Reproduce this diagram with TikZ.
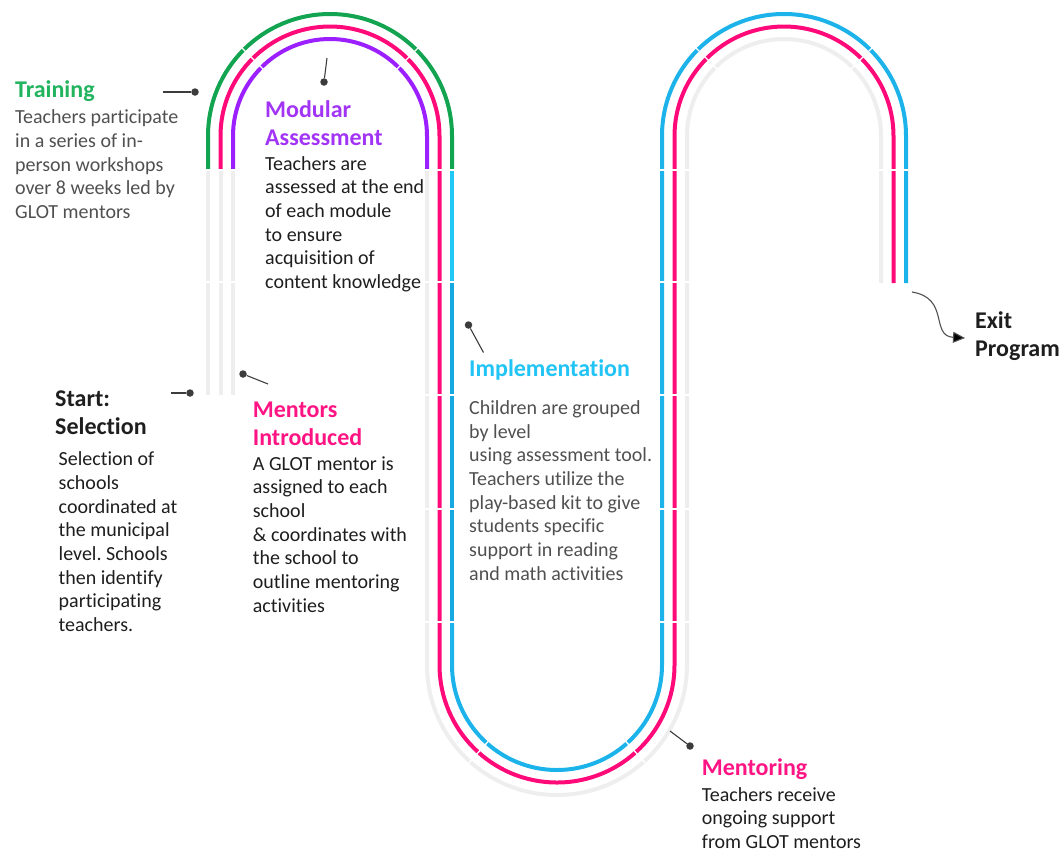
\documentclass[tikz,border=0pt]{standalone}
\usepackage{fontspec}
\setmainfont{Carlito}[Ligatures=NoCommon]
\frenchspacing
\usetikzlibrary{arrows.meta,calc}

\definecolor{trackgray}{HTML}{EEEEEE}
\definecolor{lgreen}{HTML}{13A452}
\definecolor{lpink}{HTML}{FF0A78}
\definecolor{lpurple}{HTML}{9B1FFF}
\definecolor{lcyan}{HTML}{1CB2EA}
\definecolor{lcyanlight}{HTML}{22C8F5}
\definecolor{lcyandark}{HTML}{16A8E0}
\definecolor{tgreen}{HTML}{22B35E}
\definecolor{tpink}{HTML}{FF1483}
\definecolor{tpurple}{HTML}{A235F5}
\definecolor{tcyan}{HTML}{21C4F5}
\definecolor{ink}{HTML}{1E1E1E}
\definecolor{softink}{HTML}{505050}
\definecolor{pointer}{HTML}{3C3C3C}

\tikzset{
  lane/.style={line width=4pt, line cap=butt},
  gap/.style={draw=white, line width=1.3pt},
  title/.style={font=\fontsize{24}{27.8}\selectfont\bfseries, anchor=base west, inner sep=0pt, align=left},
  body/.style={font=\fontsize{20}{23.65}\selectfont, anchor=base west, inner sep=0pt, align=left, text=ink},
  pin dot/.style={circle, fill=pointer, inner sep=0pt, minimum size=7.5pt},
  pin line/.style={draw=pointer, line width=1.1pt},
}

\begin{document}
\begin{tikzpicture}[x=1pt, y=-1pt]
\useasboundingbox (0,0) rectangle (1062,852);

% ---- lane C (innermost on the first arch) ----
\draw[lane, trackgray] (233,395) -- (233,170);
\draw[lane, lpurple] (233,170) -- (233,136) arc[start angle=180, end angle=360, radius=97] -- (427,170);
\draw[lane, trackgray] (427,170) -- (427,665) arc[start angle=180, end angle=0, radius=130] -- (687,136)
  arc[start angle=180, end angle=360, radius=97] -- (881,283);

% ---- lane B (middle) ----
\draw[lane, trackgray] (220.5,395) -- (220.5,170);
\draw[lane, lpink] (220.5,170) -- (220.5,136) arc[start angle=180, end angle=360, radius=109.5]
  -- (439.5,665) arc[start angle=180, end angle=0, radius=117.5]
  -- (674.5,136) arc[start angle=180, end angle=360, radius=109.5] -- (893.5,283);

% ---- lane A (outermost on the first arch) ----
\draw[lane, trackgray] (208,395) -- (208,170);
\draw[lane, lgreen] (208,170) -- (208,136) arc[start angle=180, end angle=360, radius=122] -- (452,170);
\draw[lane, lcyanlight] (452,170) -- (452,282);
\draw[lane, lcyandark] (452,282) -- (452,622);
\draw[lane, lcyan] (452,622) -- (452,665) arc[start angle=180, end angle=0, radius=105]
  -- (662,136) arc[start angle=180, end angle=360, radius=122] -- (906,283);

% ---- segment separators ----
\foreach \yy in {170,282} \draw[gap] (204,\yy) -- (237,\yy);
\foreach \yy in {170,282,395,509,622} {
  \draw[gap] (423,\yy) -- (456,\yy);
  \draw[gap] (658,\yy) -- (691,\yy);
}
\draw[gap] (877,170) -- (910,170);
\foreach \a in {225,315} {
  \draw[gap] ($(330,136)+(\a:93)$) -- ($(330,136)+(\a:126)$);
  \draw[gap] ($(784,136)+(\a:93)$) -- ($(784,136)+(\a:126)$);
}
\foreach \a in {48,132}
  \draw[gap] ($(557,665)+(\a:101)$) -- ($(557,665)+(\a:134)$);

% ---- texts (each node is placed at the baseline of its last line) ----
\node[title, text=tgreen] (trainT) at (15,97.7) {Training};
\node[body, text=softink] (trainB) at (15,218.5) {Teachers participate\\in a series of in-\\person workshops\\over 8 weeks led by\\GLOT mentors};

\node[title, text=tpurple] (modT) at (265,145) {Modular\\Assessment};
\node[body] (modB) at (265,288.5) {Teachers are\\assessed at the end\\of each module\\to ensure\\acquisition of\\content knowledge};

\node[title, text=ink] (startT) at (55,434) {Start:\\Selection};
\node[body] (startB) at (58.5,631.5) {Selection of\\schools\\coordinated at\\the municipal\\level. Schools\\then identify\\participating\\teachers.};

\node[title, text=tpink] (mentT) at (252.7,445) {Mentors\\Introduced};
\node[body] (mentB) at (252.7,612) {A GLOT mentor is\\assigned to each\\school\\\& coordinates with\\the school to\\outline mentoring\\activities};

\node[title, text=tcyan] (implT) at (469,376.7) {Implementation};
\node[body, text=softink] (implB) at (469,580) {Children are grouped\\by level\\using assessment tool.\\Teachers utilize the\\play-based kit to give\\students specific\\support in reading\\and math activities};

\node[title, text=tpink] (mentoT) at (701.7,775) {Mentoring};
\node[body] (mentoB) at (701.7,848.3) {Teachers receive\\ongoing support\\from GLOT mentors};

\node[title, text=ink] (exitT) at (975,356.7) {Exit\\Program};

% ---- pointers ----
\node[pin dot] (trainDot) at (195,92) {};
\coordinate (trainEnd) at (163,92);
\draw[pin line] (trainEnd) -- (trainDot);

\node[pin dot] (modDot) at (324,82) {};
\coordinate (modEnd) at (327,58);
\draw[pin line] (modEnd) -- (modDot);

\node[pin dot] (startDot) at (190,393) {};
\coordinate (startEnd) at (171,393);
\draw[pin line] (startEnd) -- (startDot);

\node[pin dot] (mentDot) at (243,374) {};
\coordinate (mentEnd) at (268,384);
\draw[pin line] (mentDot) -- (mentEnd);

\node[pin dot] (implDot) at (468.5,325) {};
\coordinate (implEnd) at (483.5,352.5);
\draw[pin line] (implDot) -- (implEnd);

\node[pin dot] (mentoDot) at (690,746) {};
\coordinate (mentoEnd) at (670,731);
\draw[pin line] (mentoEnd) -- (mentoDot);

% ---- exit arrow ----
\coordinate (exitStart) at (912,292);
\coordinate (exitTip) at (965,338);
\draw[draw=softink, line width=1.1pt, -{Triangle[length=12pt, width=11pt, fill=black]}]
  (exitStart) .. controls (950,298) and (930,336) .. (exitTip);
\end{tikzpicture}
\end{document}
